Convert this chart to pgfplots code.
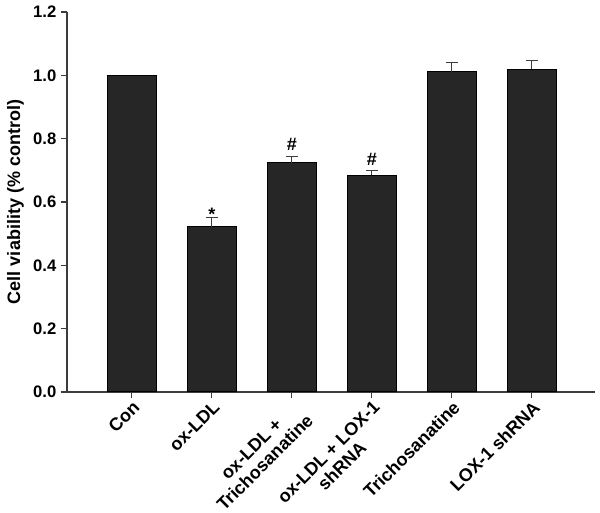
\documentclass[border=0pt]{standalone}
\usepackage{fontspec}
\setmainfont{Liberation Sans}
\usepackage{pgfplots}
\pgfplotsset{compat=1.18}

\definecolor{barfill}{RGB}{38,38,38}
\definecolor{axisgray}{RGB}{60,60,60}

\begin{document}
\begin{tikzpicture}
\begin{axis}[
    name=ax,
    scale only axis, width=396pt, height=285pt,
    xmin=-0.81, xmax=5.79, ymin=0, ymax=1.2,
    axis x line*=bottom, axis y line*=left,
    axis line style={axisgray, line width=0.9pt},
    tick style={axisgray, line width=0.9pt},
    major tick length=4.5pt, tick align=outside,
    xtick={0,...,5},
    xticklabels={Con, ox-LDL, {ox-LDL +\\Trichosanatine}, {ox-LDL + LOX-1\\shRNA}, Trichosanatine, LOX-1 shRNA},
    xticklabel style={rotate=45, anchor=north east, align=center, inner sep=0pt,
        font=\fontsize{13.5}{14.5}\selectfont\bfseries},
    xticklabel shift=1pt,
    ytick={0,0.2,...,1.2},
    yticklabel style={font=\fontsize{12.5}{14}\selectfont\bfseries, /pgf/number format/fixed, /pgf/number format/precision=1, /pgf/number format/fixed zerofill},
    /pgf/number format/assume math mode=true,
    ylabel={Cell viability (\% control)},
    ylabel style={font=\fontsize{13.5}{15}\selectfont\bfseries},
]
\addplot[ybar, bar width=0.61, bar shift=0pt, fill=barfill, draw=black, line width=0.8pt]
  coordinates {(0,1.000)};
\addplot[ybar, bar width=0.61, bar shift=0pt, fill=barfill, draw=black, line width=0.8pt,
    error bars/.cd, y dir=plus, y explicit,
    error bar style={axisgray, line width=0.7pt},
    error mark options={axisgray, line width=0.7pt, rotate=90, mark size=4.5pt}]
  coordinates {
    (1,0.522) +- (0,0.028)
    (2,0.724) +- (0,0.019)
    (3,0.685) +- (0,0.014)
    (4,1.011) +- (0,0.031)
    (5,1.019) +- (0,0.027)
  };
\addplot[draw=none, mark=none, nodes near coords, point meta=explicit symbolic,
    nodes near coords style={anchor=base, inner sep=0pt, font=\fontsize{13.5}{15}\selectfont\bfseries}]
  coordinates {
    (1,0.543) [*]
    (2,0.764) [\#]
    (3,0.714) [\#]
  };
\end{axis}
\pgfresetboundingbox
\path[use as bounding box] (ax.south west) ++(-50.25pt,-90.75pt) rectangle ++(450pt,384.75pt);
\end{tikzpicture}
\end{document}
